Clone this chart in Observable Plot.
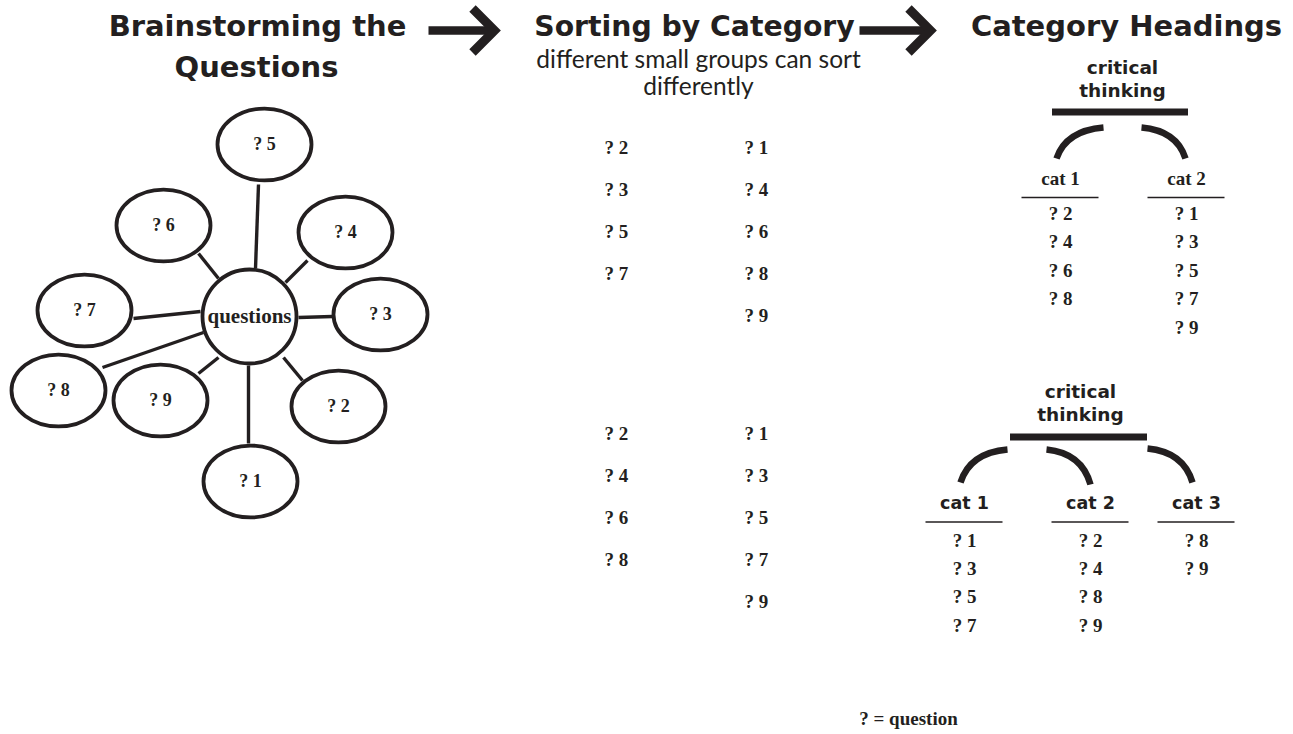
<!DOCTYPE html>
<html>
<head>
<meta charset="utf-8">
<script src="https://cdn.jsdelivr.net/npm/d3@7"></script>
<script src="https://cdn.jsdelivr.net/npm/@observablehq/plot@0.6"></script>
<style>
  html, body { margin: 0; padding: 0; background: #fff; }
  #chart svg { display: block; }
</style>
</head>
<body>
<div id="chart"></div>
<script>
// ================= CONTENT (text and values) =================
const stageTitle1 = ["Brainstorming the", "Questions"];
const stageTitle2 = ["Sorting by Category"];
const stageTitle3 = ["Category Headings"];
const sortNote = ["different small groups can sort", "differently"];
const hubLabel = "questions";
const ideaLabels = ["? 1", "? 2", "? 3", "? 4", "? 5", "? 6", "? 7", "? 8", "? 9"];
const sortALeft = ["? 2", "? 3", "? 5", "? 7"];
const sortARight = ["? 1", "? 4", "? 6", "? 8", "? 9"];
const sortBLeft = ["? 2", "? 4", "? 6", "? 8"];
const sortBRight = ["? 1", "? 3", "? 5", "? 7", "? 9"];
const headingLines = ["critical", "thinking"];
const treeACats = ["cat 1", "cat 2"];
const treeAItems = [["? 2", "? 4", "? 6", "? 8"], ["? 1", "? 3", "? 5", "? 7", "? 9"]];
const treeBCats = ["cat 1", "cat 2", "cat 3"];
const treeBItems = [["? 1", "? 3", "? 5", "? 7"], ["? 2", "? 4", "? 8", "? 9"], ["? 8", "? 9"]];
const legendText = "? = question";

// ================= LAYOUT (pixel frame of the diagram) =================
const W = 1293, H = 734;
const INK = "#231f20";
const HEAVY = "'DejaVu Sans', Lato, sans-serif";
const SANS = "Lato, 'Open Sans', sans-serif";
const SERIF = "'Liberation Serif', 'DejaVu Serif', serif";

const hub = {x: 249, y: 316, r: 47};
const ideaX = [250, 338, 380, 345, 264, 163, 84, 58, 160];
const ideaY = [481, 406, 314, 232, 144, 225, 310, 390, 400];
const spokeFrom = [[248, 365], [283, 357], [298, 317], [285, 282], [255, 268], [218, 278], [200, 311], [203, 332], [218, 357]];
const spokeTo   = [[248, 443], [302, 380], [332, 316], [307, 260], [258, 184], [198, 253], [133, 318], [102, 367], [198, 373]];

const arrowStart = [[428, 30], [859, 30]];
const arrowTip = [[494, 30], [930, 30]];

const sortCols = [604, 744];
const sortTopA = 147, sortTopB = 433, sortStep = 42;

const treeA = {cx: 1122, titleY: [68, 91], barX: [1052, 1188], barY: 111.5,
  cols: [1060, 1186], catY: 178, ruleY: 197, itemTop: 213, itemStep: 28.5,
  arcFrom: [[1103, 127], [1141, 127]], arcTo: [[1056, 158], [1185, 158]]};
const treeB = {cx: 1080, titleY: [392, 415], barX: [1010, 1147], barY: 436.5,
  cols: [964, 1090, 1196], catY: 503, ruleY: 521.5, itemTop: 540, itemStep: 28.4,
  arcFrom: [[1007, 449], [1046, 449], [1147, 448]], arcTo: [[960, 482], [1090, 484], [1192, 482]]};

// ================= helpers =================
const ellipseSymbol = (ratio) => ({
  draw(ctx, size) {
    const rx = Math.sqrt(size / Math.PI), ry = rx * ratio, k = 0.5523;
    ctx.moveTo(rx, 0);
    ctx.bezierCurveTo(rx, ry * k, rx * k, ry, 0, ry);
    ctx.bezierCurveTo(-rx * k, ry, -rx, ry * k, -rx, 0);
    ctx.bezierCurveTo(-rx, -ry * k, -rx * k, -ry, 0, -ry);
    ctx.bezierCurveTo(rx * k, -ry, rx, -ry * k, rx, 0);
    ctx.closePath();
  }
});
const chevronSymbol = {
  draw(ctx) {
    ctx.moveTo(-22, -22);
    ctx.lineTo(0, 0);
    ctx.lineTo(-22, 22);
  }
};
function arcCurve(context) {
  let pts = [];
  return {
    areaStart() {}, areaEnd() {},
    lineStart() { pts = []; },
    point(x, y) { pts.push([+x, +y]); },
    lineEnd() {
      if (pts.length < 2) return;
      const [a, b] = [pts[0], pts[pts.length - 1]];
      const cx = b[0] + 0.2 * (a[0] - b[0]);
      const cy = a[1] + 0.1 * (b[1] - a[1]);
      context.moveTo(a[0], a[1]);
      context.quadraticCurveTo(cx, cy, b[0], b[1]);
    }
  };
}

// ================= tables built from the arrays =================
const ideas = ideaLabels.map((label, i) => ({label, x: ideaX[i], y: ideaY[i]}));
const spokes = spokeFrom.map((f, i) => ({x1: f[0], y1: f[1], x2: spokeTo[i][0], y2: spokeTo[i][1]}));
const arrows = arrowStart.map((s, i) => ({x1: s[0], y1: s[1], x2: arrowTip[i][0], y2: arrowTip[i][1]}));

const sortCells = [];
[[sortALeft, sortARight, sortTopA], [sortBLeft, sortBRight, sortTopB]].forEach(([L, R, top]) => {
  [L, R].forEach((col, c) => col.forEach((t, r) => sortCells.push({text: t, x: sortCols[c], y: top + r * sortStep})));
});

function treeTables(tree, cats, items) {
  const titles = headingLines.map((t, i) => ({text: t, x: tree.cx, y: tree.titleY[i]}));
  const catLabels = cats.map((t, i) => ({text: t, x: tree.cols[i], y: tree.catY}));
  const rules = cats.map((t, i) => ({x1: tree.cols[i] - 38.5, x2: tree.cols[i] + 38.5, y: tree.ruleY}));
  const cells = [];
  items.forEach((col, c) => col.forEach((t, r) => cells.push({text: t, x: tree.cols[c], y: tree.itemTop + r * tree.itemStep})));
  const arcs = tree.arcFrom.map((f, i) => ({x1: f[0], y1: f[1], x2: tree.arcTo[i][0], y2: tree.arcTo[i][1]}));
  const bar = [{x1: tree.barX[0], x2: tree.barX[1], y: tree.barY}];
  return {titles, catLabels, rules, cells, arcs, bar};
}
const tA = treeTables(treeA, treeACats, treeAItems);
const tB = treeTables(treeB, treeBCats, treeBItems);

const titleRows = [
  {text: stageTitle1[0], x: 257, y: 26.5, size: 29},
  {text: stageTitle1[1], x: 256, y: 67, size: 29},
  {text: stageTitle2[0], x: 694, y: 26.5, size: 28.3},
  {text: stageTitle3[0], x: 1126, y: 26.5, size: 29}
];
const noteRows = sortNote.map((t, i) => ({text: t, x: 698, y: [60, 87][i]}));

// ================= plot =================
const chart = Plot.plot({
  width: W, height: H,
  margin: 0,
  x: {type: "linear", domain: [0, W], range: [0, W], axis: null},
  y: {type: "linear", domain: [0, H], range: [0, H], axis: null},
  style: {background: "#fff"},
  marks: [
    Plot.link(spokes, {x1: "x1", y1: "y1", x2: "x2", y2: "y2", stroke: INK, strokeWidth: 3.4}),
    Plot.dot(ideas, {x: "x", y: "y", r: 47, symbol: ellipseSymbol(0.765), fill: "#fff", stroke: INK, strokeWidth: 3.8}),
    Plot.dot([hub], {x: "x", y: "y", r: hub.r, fill: "#fff", stroke: INK, strokeWidth: 3.8}),
    Plot.text(ideas, {x: "x", y: "y", text: "label", fontFamily: SERIF, fontWeight: 700, fontSize: 18, fill: INK, lineAnchor: "middle"}),
    Plot.text([hub], {x: "x", y: "y", text: () => hubLabel, fontFamily: SERIF, fontWeight: 700, fontSize: 21, fill: INK, lineAnchor: "middle"}),

    ...titleRows.map(r => Plot.text([r], {x: "x", y: "y", text: "text", fontFamily: HEAVY, fontWeight: 700, fontSize: r.size, fill: INK, lineAnchor: "middle"})),
    Plot.text(noteRows, {x: "x", y: "y", text: "text", fontFamily: SANS, fontWeight: 400, fontSize: 24.5, fill: INK, lineAnchor: "middle"}),

    Plot.link(arrows, {x1: "x1", y1: "y1", x2: "x2", y2: "y2", stroke: INK, strokeWidth: 8.5}),
    Plot.dot(arrows, {x: "x2", y: "y2", r: 10, symbol: chevronSymbol, fill: "none", stroke: INK, strokeWidth: 9, strokeLinejoin: "miter", strokeLinecap: "butt"}),

    Plot.text(sortCells, {x: "x", y: "y", text: "text", textAnchor: "start", fontFamily: SERIF, fontWeight: 700, fontSize: 19, fill: INK, lineAnchor: "middle"}),

    Plot.text(tA.titles, {x: "x", y: "y", text: "text", fontFamily: HEAVY, fontWeight: 700, fontSize: 18.5, fill: INK, lineAnchor: "middle"}),
    Plot.ruleY(tA.bar, {x1: "x1", x2: "x2", y: "y", stroke: INK, strokeWidth: 7}),
    Plot.link(tA.arcs, {x1: "x1", y1: "y1", x2: "x2", y2: "y2", curve: arcCurve, stroke: INK, strokeWidth: 6.5, fill: "none"}),
    Plot.text(tA.catLabels, {x: "x", y: "y", text: "text", fontFamily: SERIF, fontWeight: 700, fontSize: 19, fill: INK, lineAnchor: "middle"}),
    Plot.ruleY(tA.rules, {x1: "x1", x2: "x2", y: "y", stroke: INK, strokeWidth: 1.6}),
    Plot.text(tA.cells, {x: "x", y: "y", text: "text", fontFamily: SERIF, fontWeight: 700, fontSize: 19, fill: INK, lineAnchor: "middle"}),

    Plot.text(tB.titles, {x: "x", y: "y", text: "text", fontFamily: HEAVY, fontWeight: 700, fontSize: 18.5, fill: INK, lineAnchor: "middle"}),
    Plot.ruleY(tB.bar, {x1: "x1", x2: "x2", y: "y", stroke: INK, strokeWidth: 7}),
    Plot.link(tB.arcs, {x1: "x1", y1: "y1", x2: "x2", y2: "y2", curve: arcCurve, stroke: INK, strokeWidth: 6.5, fill: "none"}),
    Plot.text(tB.catLabels, {x: "x", y: "y", text: "text", fontFamily: HEAVY, fontWeight: 700, fontSize: 17.5, fill: INK, lineAnchor: "middle"}),
    Plot.ruleY(tB.rules, {x1: "x1", x2: "x2", y: "y", stroke: INK, strokeWidth: 1.6}),
    Plot.text(tB.cells, {x: "x", y: "y", text: "text", fontFamily: SERIF, fontWeight: 700, fontSize: 19, fill: INK, lineAnchor: "middle"}),

    Plot.text([{text: legendText, x: 908, y: 718}], {x: "x", y: "y", text: "text", fontFamily: SERIF, fontWeight: 700, fontSize: 19, fill: INK, lineAnchor: "middle"})
  ]
});
document.getElementById("chart").appendChild(chart);
</script>
</body>
</html>
